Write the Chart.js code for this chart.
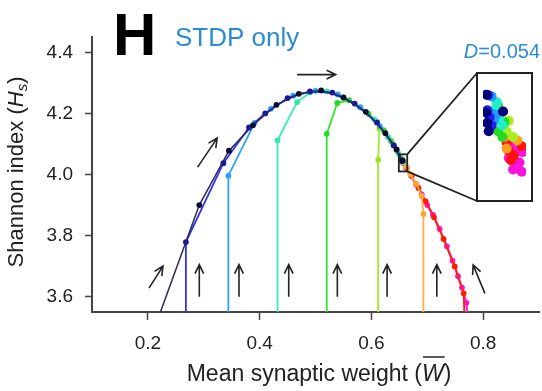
<!DOCTYPE html>
<html>
<head>
<title>STDP only</title>
<script src="https://cdn.jsdelivr.net/npm/chart.js"></script>
<style>
  body { margin: 0; background: #fff; }
  #wrap { position: relative; width: 542px; height: 391px; }
  #inset { position: absolute; left: 476px; top: 72px; width: 57px; height: 130px;
           border: 2px solid #222; box-sizing: border-box; background: #fff; }
</style>
</head>
<body>
<div id="wrap">
  <canvas id="main" width="542" height="391"></canvas>
  <div id="inset"><canvas id="zoom" width="53" height="126"></canvas></div>
</div>
<script>
// tick labels
var xTicks = [0.2, 0.4, 0.6, 0.8];
var yTicks = [3.6, 3.8, 4.0, 4.2, 4.4];

// trajectories [W, Hs], one per starting weight
var navy    = [[0.2026,3.45],[0.292,3.90],[0.345,4.078],[0.388,4.161],[0.43,4.228],[0.47,4.264],[0.51,4.275],[0.55,4.252],[0.59,4.205],[0.625,4.135],[0.645,4.082],[0.656,4.045]];
var blue    = [[0.268,3.30],[0.268,3.779],[0.335,4.037],[0.381,4.154],[0.41,4.20],[0.45,4.25],[0.49,4.272],[0.53,4.268],[0.57,4.232],[0.61,4.17],[0.64,4.095],[0.654,4.045]];
var sky     = [[0.344,3.30],[0.344,3.996],[0.391,4.169],[0.42,4.215],[0.46,4.258],[0.50,4.274],[0.54,4.262],[0.58,4.22],[0.615,4.158],[0.64,4.095],[0.655,4.048]];
var aqua    = [[0.432,3.30],[0.432,4.112],[0.467,4.237],[0.49,4.268],[0.52,4.272],[0.55,4.252],[0.58,4.22],[0.605,4.18],[0.63,4.122],[0.648,4.07],[0.657,4.042]];
var green   = [[0.52,3.30],[0.52,4.133],[0.539,4.234],[0.56,4.243],[0.58,4.22],[0.595,4.198],[0.61,4.172],[0.622,4.145],[0.635,4.11],[0.645,4.08],[0.655,4.05]];
var ygreen  = [[0.612,3.30],[0.612,4.048],[0.614,4.150],[0.622,4.142],[0.63,4.122],[0.638,4.10],[0.645,4.08],[0.652,4.058],[0.658,4.04]];
var orange  = [[0.693,3.30],[0.693,3.871],[0.69,3.93],[0.68,3.97],[0.67,4.0],[0.662,4.025],[0.657,4.04]];
var red     = [[0.768,3.45],[0.765,3.611],[0.749,3.699],[0.729,3.789],[0.712,3.86],[0.697,3.912],[0.684,3.956],[0.672,3.995],[0.663,4.022],[0.657,4.038]];
var magenta = [[0.775,3.45],[0.770,3.58],[0.762,3.63],[0.755,3.667],[0.745,3.718],[0.735,3.765],[0.722,3.822],[0.71,3.868],[0.70,3.90],[0.69,3.935],[0.68,3.968],[0.67,3.998],[0.662,4.022],[0.656,4.04]];

// zoomed region shown in the inset
var insetW = [0.649, 0.664];
var insetH = [4.010, 4.066];
var zNavy    = [[0.6502,4.0584],[0.6502,4.0498],[0.6505,4.0447],[0.6510,4.0408],[0.6560,4.0503]];
var zBlue    = [[0.6508,4.0582],[0.6505,4.0509],[0.6513,4.0475],[0.6520,4.0436]];
var zSky     = [[0.6520,4.0576],[0.6520,4.0492],[0.65275,4.0458],[0.6535,4.0486]];
var zAqua    = [[0.6535,4.0520],[0.6538,4.0548],[0.6547,4.0470],[0.65575,4.0436]];
var zGreen   = [[0.65425,4.0531],[0.6550,4.0503],[0.65425,4.0408],[0.65575,4.0380],[0.6565,4.0453]];
var zYgreen  = [[0.6580,4.0458],[0.6595,4.0380],[0.65725,4.0408]];
var zOrange  = [[0.6562,4.0425],[0.6565,4.0380],[0.6610,4.0363],[0.65725,4.0324]];
var zRed     = [[0.65725,4.0352],[0.6580,4.0313],[0.65875,4.0268],[0.6598,4.0290],[0.6625,4.0335]];
var zMagenta = [[0.6580,4.0380],[0.65875,4.0335],[0.66025,4.0313],[0.66175,4.0257],[0.6595,4.0223],[0.6610,4.0240],[0.6628,4.0307],[0.6580,4.0279],[0.6625,4.0212]];

// arrows: vertical ones at W, from Hs to Hs; others [W0,H0,W1,H1]
var upArrowW = [0.292, 0.363, 0.452, 0.539, 0.628, 0.717];
var upArrowH = [3.60, 3.705];
var otherArrows = [[0.202,3.628,0.227,3.70],[0.289,4.024,0.324,4.119],[0.803,3.611,0.782,3.704],[0.467,4.327,0.536,4.327]];

var FONT = "'Liberation Sans', Arial, sans-serif";

var series = [
  { pts: navy,    line: '#2a2a5a', dot: '#0c0c30', w: 1.5 },
  { pts: blue,    line: '#3333e6', dot: '#1414b4', w: 1.8 },
  { pts: sky,     line: '#2aa0ff', dot: '#2a9cff', w: 1.8 },
  { pts: aqua,    line: '#33eeb0', dot: '#2ee8b0', w: 1.8 },
  { pts: green,   line: '#2ee62e', dot: '#22dd22', w: 1.8 },
  { pts: ygreen,  line: '#a0ea28', dot: '#98e620', w: 1.8 },
  { pts: orange,  line: '#ffb040', dot: '#ffa530', w: 1.8 },
  { pts: red,     line: '#ff2200', dot: '#ff1a00', w: 1.8 },
  { pts: magenta, line: '#ff22e0', dot: '#ff14dc', w: 2.2 }
];

var zSeries = [
  [zNavy, '#00007a'], [zBlue, '#2222ee'], [zSky, '#2299ff'], [zAqua, '#22eecc'], [zGreen, '#22dd22'],
  [zYgreen, '#aaee22'], [zOrange, '#ffa020'], [zRed, '#ff1111'], [zMagenta, '#ff11dd']
];

function toXY(p) { return { x: p[0], y: p[1] }; }

function arrow(ctx, x1, y1, x2, y2) {
  var a = Math.atan2(y2 - y1, x2 - x1), L = 10, s = 0.45;
  ctx.beginPath();
  ctx.moveTo(x1, y1); ctx.lineTo(x2, y2);
  ctx.moveTo(x2 - L * Math.cos(a - s), y2 - L * Math.sin(a - s));
  ctx.lineTo(x2, y2);
  ctx.lineTo(x2 - L * Math.cos(a + s), y2 - L * Math.sin(a + s));
  ctx.stroke();
}

function drawPieces(ctx, pieces, cx, baseY) {
  var total = 0;
  pieces.forEach(function (p) { ctx.font = p.f; p.wd = ctx.measureText(p.t).width; total += p.wd; });
  var x = cx - total / 2;
  pieces.forEach(function (p) {
    ctx.font = p.f;
    ctx.fillText(p.t, x, baseY + (p.dy || 0));
    if (p.over) {
      ctx.beginPath(); ctx.lineWidth = 1.5;
      ctx.moveTo(x + 1, baseY - 24); ctx.lineTo(x + p.wd + 1, baseY - 24); ctx.stroke();
    }
    x += p.wd;
  });
}

var deco = {
  id: 'deco',
  afterDatasetsDraw: function (chart) {
    var ctx = chart.ctx, x = chart.scales.x, y = chart.scales.y;
    ctx.save();
    ctx.strokeStyle = '#222';
    ctx.lineWidth = 1.6;
    upArrowW.forEach(function (w) {
      arrow(ctx, x.getPixelForValue(w), y.getPixelForValue(upArrowH[0]), x.getPixelForValue(w), y.getPixelForValue(upArrowH[1]));
    });
    otherArrows.forEach(function (a) {
      arrow(ctx, x.getPixelForValue(a[0]), y.getPixelForValue(a[1]), x.getPixelForValue(a[2]), y.getPixelForValue(a[3]));
    });
    // zoom box and connectors to the inset
    var rx0 = x.getPixelForValue(insetW[0]), rx1 = x.getPixelForValue(insetW[1]);
    var ry0 = y.getPixelForValue(insetH[1]), ry1 = y.getPixelForValue(insetH[0]);
    ctx.lineWidth = 1.8;
    ctx.strokeRect(rx0, ry0, rx1 - rx0, ry1 - ry0);
    ctx.beginPath();
    ctx.moveTo(rx1, ry0); ctx.lineTo(477, 73);
    ctx.moveTo(rx1, ry1); ctx.lineTo(477, 201);
    ctx.stroke();
    ctx.restore();
  },
  afterDraw: function (chart) {
    var ctx = chart.ctx;
    ctx.save();
    ctx.fillStyle = '#000';
    ctx.textBaseline = 'alphabetic';
    ctx.font = 'bold 60px ' + FONT;
    ctx.fillText('H', 113, 55);
    ctx.fillStyle = '#2b8cd3';
    ctx.font = '26px ' + FONT;
    ctx.fillText('STDP only', 175, 46);
    ctx.textAlign = 'right';
    ctx.font = '20px ' + FONT;
    var wNum = ctx.measureText('=0.054').width;
    ctx.fillText('=0.054', 540, 58);
    ctx.font = 'italic 20px ' + FONT;
    ctx.fillText('D', 540 - wNum, 58);
    ctx.textAlign = 'left';
    ctx.fillStyle = '#222';
    ctx.strokeStyle = '#222';
    drawPieces(ctx, [
      { t: 'Mean synaptic weight (', f: '23px ' + FONT },
      { t: 'W', f: 'italic 23px ' + FONT, over: true },
      { t: ')', f: '23px ' + FONT }
    ], 319, 381);
    ctx.translate(23, 172);
    ctx.rotate(-Math.PI / 2);
    drawPieces(ctx, [
      { t: 'Shannon index (', f: '22px ' + FONT },
      { t: 'H', f: 'italic 22px ' + FONT },
      { t: 's', f: 'italic 15px ' + FONT, dy: 4 },
      { t: ')', f: '22px ' + FONT }
    ], 0, 0);
    ctx.restore();
  }
};

new Chart(document.getElementById('main'), {
  type: 'scatter',
  data: {
    datasets: series.map(function (s) {
      return {
        data: s.pts.map(toXY),
        showLine: true,
        borderColor: s.line,
        borderWidth: s.w,
        backgroundColor: s.dot,
        pointRadius: 2.9,
        pointBorderWidth: 0,
        pointHoverRadius: 0
      };
    })
  },
  options: {
    responsive: false,
    animation: false,
    events: [],
    layout: { padding: { top: 37, right: 0, left: 0, bottom: 0 } },
    plugins: { legend: { display: false }, tooltip: { enabled: false } },
    scales: {
      x: {
        type: 'linear', min: 0.1, max: 0.9,
        afterBuildTicks: function (s) { s.ticks = xTicks.map(function (v) { return { value: v }; }); },
        afterFit: function (s) { s.height = 79; },
        ticks: { font: { size: 19, family: FONT }, color: '#222', padding: 12, maxRotation: 0, autoSkip: false,
                 callback: function (v) { return v.toFixed(1); } },
        grid: { drawOnChartArea: false, drawTicks: true, tickLength: 8, tickColor: '#444', tickWidth: 1.5 },
        border: { color: '#444', width: 2 }
      },
      y: {
        type: 'linear', min: 3.55, max: 4.45,
        afterBuildTicks: function (s) { s.ticks = yTicks.map(function (v) { return { value: v }; }); },
        afterFit: function (s) { s.width = 92; },
        ticks: { font: { size: 19, family: FONT }, color: '#222', padding: 12, autoSkip: false,
                 callback: function (v) { return v.toFixed(1); } },
        grid: { drawOnChartArea: false, drawTicks: true, tickLength: 7, tickColor: '#444', tickWidth: 1.5 },
        border: { color: '#444', width: 2 }
      }
    }
  },
  plugins: [deco]
});

// inset: magnified view of the convergence region
new Chart(document.getElementById('zoom'), {
  type: 'scatter',
  data: {
    datasets: zSeries.map(function (s) {
      return { data: s[0].map(toXY), backgroundColor: s[1], pointRadius: 5, pointBorderWidth: 0 };
    })
  },
  options: {
    responsive: false,
    animation: false,
    events: [],
    layout: { padding: 0 },
    plugins: { legend: { display: false }, tooltip: { enabled: false } },
    scales: {
      x: { display: false, min: insetW[0], max: insetW[1] },
      y: { display: false, min: insetH[0], max: insetH[1] }
    }
  }
});
</script>
</body>
</html>
